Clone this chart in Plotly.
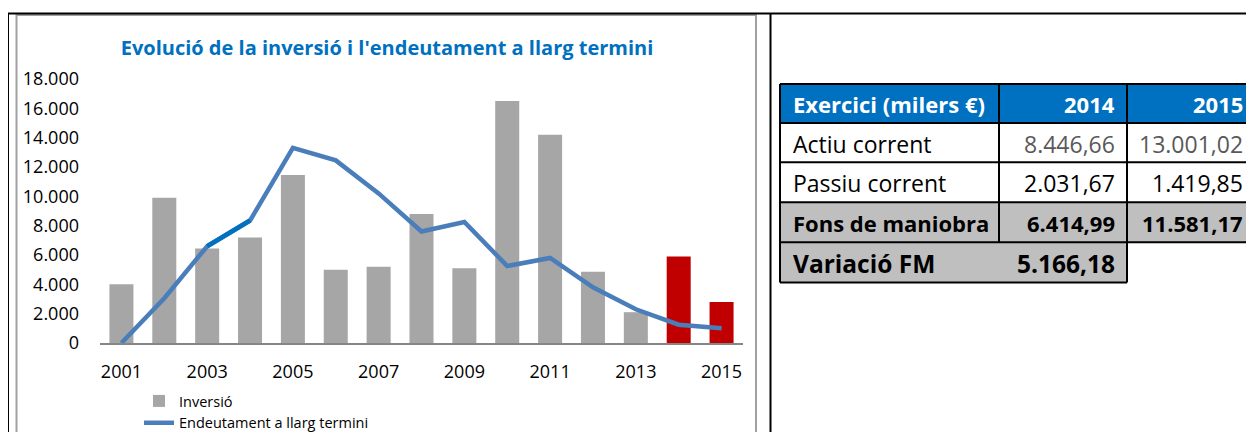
import plotly.graph_objects as go

# chart data (milers €)
years = list(range(2001, 2016))
inversio = [4000, 9900, 6450, 7200, 11450, 5000, 5200, 8800, 5100, 16500,
            14200, 4850, 2100, 5900, 2800]
endeutament = [0, 3050, 6600, 8350, 13300, 12450, 10200, 7600, 8250, 5250,
               5800, 3800, 2300, 1250, 1000]
highlight_years = [2014, 2015]
x_ticks = list(range(2001, 2016, 2))
y_ticks = list(range(0, 18001, 2000))

# table data
table_header = ["Exercici (milers €)", "2014", "2015"]
row_labels = ["Actiu corrent", "Passiu corrent", "Fons de maniobra"]
values_2014 = [8446.66, 2031.67, 6414.99]
values_2015 = [13001.02, 1419.85, 11581.17]
variacio_label = "Variació FM"
variacio_value = 5166.18

FONT = "Open Sans"
GREY_BAR = "#A6A6A6"
RED_BAR = "#C00000"
LINE_BLUE = "#4A7EBB"
DARK_BLUE = "#0070C0"

# the page body adds an 8px margin, so the figure is drawn 8px smaller
OFF = 8
W, H = 1254 - OFF, 432 - OFF
# plot area in page pixels
PL, PR, PT, PB = 100, 743, 78.5, 343


def px(x):
    return (x - PL) / (PR - PL)


def py(y):
    return (PB - y) / (PB - PT)


def fmt(v):
    s = f"{v:,.2f}"
    return s.replace(",", "X").replace(".", ",").replace("X", ".")


bar_colors = [RED_BAR if y in highlight_years else GREY_BAR for y in years]

fig = go.Figure()
fig.add_trace(go.Bar(
    x=years, y=inversio, name="Inversió", width=0.56,
    marker={"color": bar_colors, "line": {"width": 0}},
))
fig.add_trace(go.Scatter(
    x=years, y=endeutament, name="Endeutament a llarg termini",
    mode="lines", line={"color": LINE_BLUE, "width": 4.5},
))
# the selected 2003-2004 segment is drawn darker
i0 = years.index(2003)
fig.add_trace(go.Scatter(
    x=years[i0:i0 + 2], y=endeutament[i0:i0 + 2], mode="lines",
    line={"color": DARK_BLUE, "width": 4.5}, showlegend=False, hoverinfo="skip",
))

shapes = []
annotations = []


def hline(x0, x1, y, color="black", width=2):
    shapes.append(dict(type="line", xref="paper", yref="paper",
                       x0=px(x0), x1=px(x1), y0=py(y), y1=py(y),
                       line={"color": color, "width": width}))


def vline(x, y0, y1, color="black", width=2):
    shapes.append(dict(type="line", xref="paper", yref="paper",
                       x0=px(x), x1=px(x), y0=py(y0), y1=py(y1),
                       line={"color": color, "width": width}))


def box(x0, x1, y0, y1, fill):
    shapes.append(dict(type="rect", xref="paper", yref="paper",
                       x0=px(x0), x1=px(x1), y0=py(y1), y1=py(y0),
                       fillcolor=fill, line={"width": 0}, layer="below"))


# frame lines around the sheet region
shapes.append(dict(type="rect", xref="paper", yref="paper",
                   x0=px(16.5), x1=px(756), y0=py(440), y1=py(14.5),
                   line={"color": "#A0A0A0", "width": 2}, layer="below"))
hline(7, 1260, 13)
vline(8, 13, 440)
vline(770.5, 13, 440)

# table geometry (page pixels)
TL, C1, C2, TR = 780, 999, 1127, 1270
rows_y = [83.5, 122.5, 162, 202, 242, 282.5]
LBL_X, V1_X, V2_X = 791, 1117, 1245

box(TL, TR, rows_y[0], rows_y[1], DARK_BLUE)
box(TL, TR, rows_y[3], rows_y[4], "#BFBFBF")
box(TL, C2, rows_y[4], rows_y[5], "#BFBFBF")

for y in rows_y[:5]:
    hline(TL, TR, y)
hline(TL, C2, rows_y[5])
vline(TL, rows_y[0], rows_y[5])
vline(C1, rows_y[0], rows_y[4])
vline(C2, rows_y[0], rows_y[5])


def cell(text, x, y, anchor, color="black", bold=False, size=None):
    if size is None:
        size = 22 if bold else 23
    annotations.append(dict(
        text=f"<b>{text}</b>" if bold else text, xref="paper", yref="paper",
        x=px(x), y=py(y), xanchor=anchor, yanchor="middle", showarrow=False,
        font={"family": FONT, "size": size, "color": color},
    ))


def mid(i):
    return (rows_y[i] + rows_y[i + 1]) / 2 + 1


cell(table_header[0], LBL_X, mid(0), "left", "white", True)
cell(table_header[1], V1_X, mid(0), "right", "white", True)
cell(table_header[2], V2_X, mid(0), "right", "white", True)
for i, lbl in enumerate(row_labels):
    bold = i == 2
    vcolor = "#595959" if i == 0 else "black"
    cell(lbl, LBL_X, mid(i + 1), "left", "black", bold)
    cell(fmt(values_2014[i]), V1_X, mid(i + 1), "right", vcolor, bold)
    cell(fmt(values_2015[i]), V2_X, mid(i + 1), "right", vcolor, bold)
cell(variacio_label, LBL_X, mid(4), "left", "black", True, 24.5)
cell(fmt(variacio_value), V1_X, mid(4), "right", "black", True, 24.5)

fig.update_layout(
    width=W, height=H, autosize=False,
    margin={"l": PL - OFF, "r": W - (PR - OFF), "t": PT - OFF,
            "b": H - (PB - OFF), "pad": 0, "autoexpand": False},
    paper_bgcolor="white", plot_bgcolor="white",
    separators=",.",
    font={"family": FONT, "size": 18, "color": "black"},
    title={"text": "<b>Evolució de la inversió i l'endeutament a llarg termini</b>",
           "x": (387 - OFF) / W, "xanchor": "center", "xref": "container",
           "y": 1 - (48 - OFF) / H, "yanchor": "middle", "yref": "container",
           "font": {"family": FONT, "size": 20, "color": DARK_BLUE}},
    xaxis={"range": [2000.5, 2015.5], "tickvals": x_ticks, "showgrid": False,
           "zeroline": False, "showline": True, "linecolor": "#868686",
           "linewidth": 2, "ticks": "", "ticklabelstandoff": 11,
           "tickangle": 0, "automargin": False, "tickfont": {"size": 18}},
    yaxis={"range": [0, 18000], "tickvals": y_ticks, "tickformat": ",.0f",
           "showgrid": False, "zeroline": False, "showline": False,
           "ticks": "", "ticklabelstandoff": 20, "automargin": False,
           "tickfont": {"size": 18}},
    legend={"x": (139 - OFF) / W, "xref": "container", "xanchor": "left",
            "y": 1 - (385 - OFF) / H, "yref": "container", "yanchor": "top",
            "font": {"size": 14.5}, "bgcolor": "rgba(0,0,0,0)",
            "tracegroupgap": 0, "traceorder": "normal"},
    bargap=0.44,
    shapes=shapes,
    annotations=annotations,
    showlegend=True,
)

fig.write_html("out.html")
